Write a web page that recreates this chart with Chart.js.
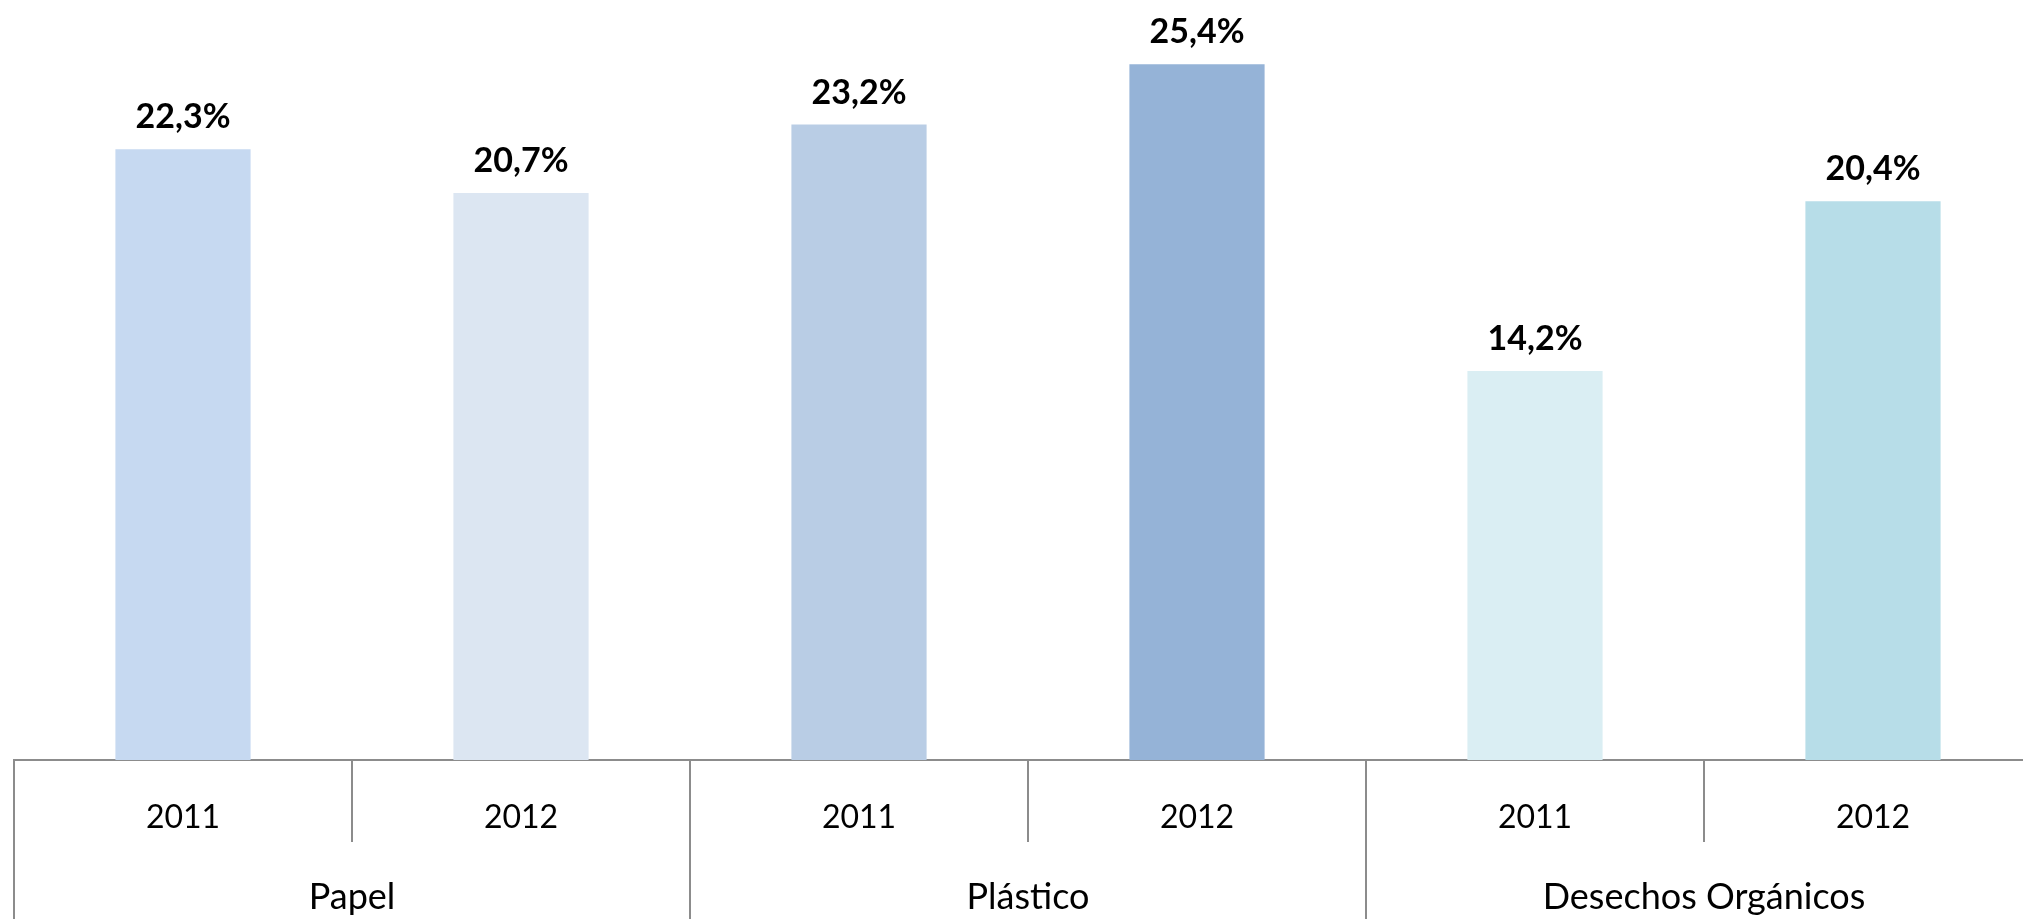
<!DOCTYPE html>
<html>
<head>
<meta charset="utf-8">
<script src="https://cdn.jsdelivr.net/npm/chart.js@4"></script>
<style>
    html, body { margin: 0; padding: 0; overflow: hidden; background: #fff; }
    #wrap { width: 2042px; height: 919px; }
</style>
</head>
<body>
<div id="wrap"><canvas id="chart" width="2042" height="919"></canvas></div>
<script>
// --- Data --- //
const years = ['2011', '2012', '2011', '2012', '2011', '2012'];
const groups = ['Papel', 'Plástico', 'Desechos Orgánicos'];
const shares = [22.3, 20.7, 23.2, 25.4, 14.2, 20.4];
const barColors = ['#C6D9F1', '#DCE6F2', '#B9CDE5', '#95B3D7', '#DAEEF3', '#B7DDE8'];

const lineColor = '#8c8c8c';

// value labels above bars, e.g. "22,3%"
const valueLabels = {
    id: 'valueLabels',
    afterDatasetsDraw(chart) {
        const ctx = chart.ctx;
        const meta = chart.getDatasetMeta(0);
        ctx.save();
        ctx.font = 'bold 34px Lato';
        ctx.fillStyle = '#000';
        ctx.textAlign = 'center';
        ctx.textBaseline = 'middle';
        meta.data.forEach((bar, i) => {
            const text = shares[i].toFixed(1).replace('.', ',') + '%';
            ctx.fillText(text, bar.x, bar.y - 32);
        });
        ctx.restore();
    }
};

new Chart(document.getElementById('chart').getContext('2d'), {
    type: 'bar',
    data: {
        labels: years,
        datasets: [{
            data: shares,
            backgroundColor: barColors,
            borderWidth: 0,
            categoryPercentage: 1,
            barPercentage: 0.4
        }]
    },
    options: {
        responsive: false,
        animation: false,
        layout: { padding: { left: 14, right: 0, top: 0, bottom: 0 } },
        plugins: {
            legend: { display: false },
            tooltip: { enabled: false }
        },
        scales: {
            y: {
                display: false,
                min: 0,
                max: 27.75
            },
            x: {
                position: 'bottom',
                weight: 1,
                offset: true,
                grid: {
                    offset: true,
                    drawOnChartArea: false,
                    tickLength: 82,
                    color: lineColor,
                    lineWidth: 2
                },
                border: { display: true, color: lineColor, width: 2 },
                ticks: {
                    autoSkip: false,
                    maxRotation: 0,
                    padding: -44,
                    color: '#000',
                    font: { family: 'Lato', size: 32 }
                },
                afterFit(scale) { scale.height = 82; }
            },
            x2: {
                type: 'category',
                position: 'bottom',
                weight: 2,
                labels: groups,
                offset: true,
                grid: {
                    offset: true,
                    drawOnChartArea: false,
                    tickLength: 77,
                    color: lineColor,
                    lineWidth: 2
                },
                border: { display: false },
                ticks: {
                    autoSkip: false,
                    maxRotation: 0,
                    padding: -43,
                    color: '#000',
                    font: { family: 'Lato', size: 36 }
                },
                afterFit(scale) { scale.height = 77; }
            }
        }
    },
    plugins: [valueLabels]
});
</script>
</body>
</html>
